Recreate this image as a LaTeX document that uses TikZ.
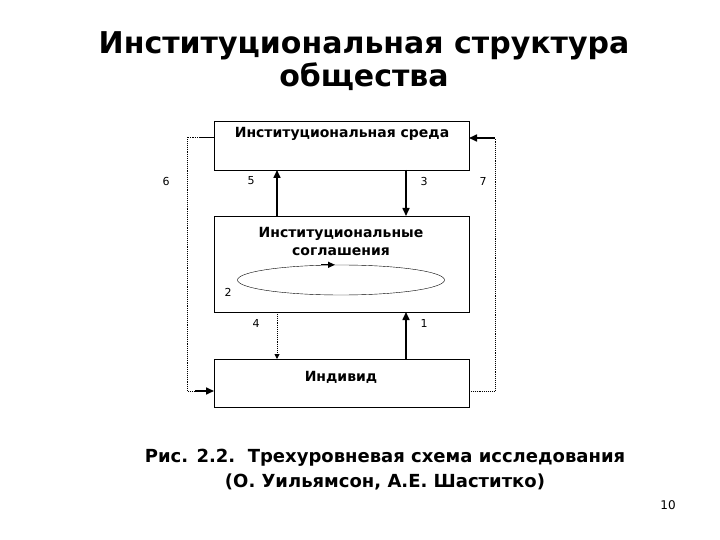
\documentclass[tikz,border=0pt]{standalone}
\usepackage{fontspec}
\setmainfont{DejaVu Sans}
\usetikzlibrary{arrows.meta,shapes.geometric}
\begin{document}
\begin{tikzpicture}[x=1pt,y=-1pt,
 box/.style={draw,line width=1.1pt,minimum width=255pt,anchor=north west,inner sep=0pt},
 lbl/.style={font=\fontsize{11}{12}\selectfont},
 sarr/.style={line width=1.6pt,-{Triangle[length=8pt,width=7pt]}},
 darr/.style={densely dotted,line width=0.9pt,-{Triangle[length=5pt,width=5pt]}}]
\useasboundingbox (0,0) rectangle (720,540);
\node[font=\bfseries\fontsize{30}{33}\selectfont,align=center] (title) at (364,61) {Институциональная структура\\общества};
\node[box,minimum height=49pt] (top) at (214,121) {};
\node[font=\bfseries\fontsize{14}{16}\selectfont] (toptxt) at (342,134) {Институциональная среда};
\node[box,minimum height=96pt] (mid) at (214,216) {};
\node[font=\bfseries\fontsize{14}{18}\selectfont,align=center] (midtxt) at (341,241) {Институциональные\\соглашения};
\node[box,minimum height=48pt] (bot) at (214,359) {};
\node[font=\bfseries\fontsize{14}{16}\selectfont] (bottxt) at (341,377) {Индивид};
\node[draw,ellipse,minimum width=207pt,minimum height=30pt,inner sep=0pt] (ell) at (341,280) {};
\draw[line width=1.3pt,-{Triangle[length=7pt,width=6pt]}] (ell.north) ++(-20,0) coordinate (e1) -- ++(14,0) coordinate (e2);
\draw[sarr] (277,216) coordinate (a5) -- (277,170);
\draw[sarr] (406,170) coordinate (a3) -- (406,216);
\draw[darr] (277,312) coordinate (a4) -- (277,359);
\draw[sarr] (406,359) coordinate (a1) -- (406,312);
\draw (214,137) coordinate (l0) -- (200,137);
\draw[densely dotted,line width=0.9pt] (200,137) -- (187,137) -- (187,391) -- (200,391);
\draw[sarr] (195,391) -- (214,391);
\draw[densely dotted,line width=0.9pt] (469,391) coordinate (r0) -- (495,391) -- (495,138) -- (485,138);
\draw[sarr] (495,138) -- (469,138);
\node[lbl] (n6) at (166,181) {6};
\node[lbl] (n5) at (251,181) {5};
\node[lbl] (n3) at (424,181) {3};
\node[lbl] (n7) at (483,181) {7};
\node[lbl] (n2) at (228,292) {2};
\node[lbl] (n4) at (256,323) {4};
\node[lbl] (n1) at (424,323) {1};
\node[font=\bfseries\fontsize{18}{25}\selectfont,align=center] (cap) at (385,470) {Рис. 2.2.\ \ Трехуровневая схема исследования\\(О. Уильямсон, А.Е. Шаститко)};
\node[font=\fontsize{12}{14}\selectfont] (pg) at (668,505) {10};
\end{tikzpicture}
\end{document}
